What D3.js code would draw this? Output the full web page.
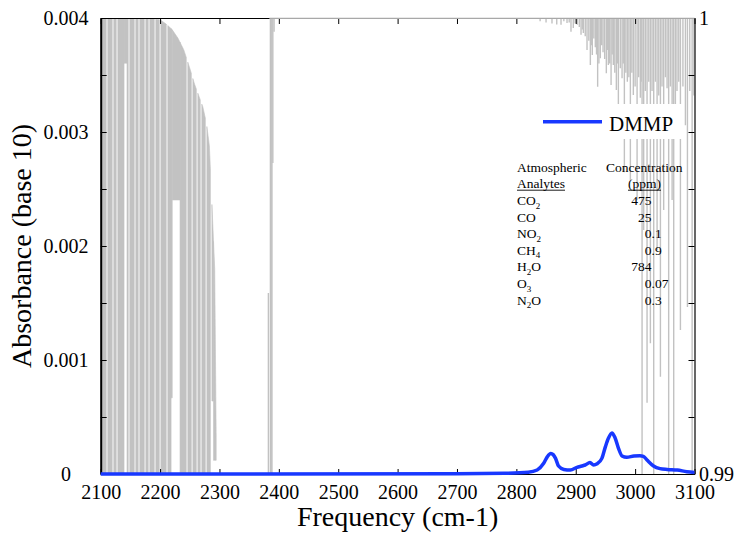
<!DOCTYPE html>
<html>
<head>
<meta charset="utf-8">
<script src="https://cdn.jsdelivr.net/npm/d3@7"></script>
<style>
  html, body { margin: 0; padding: 0; background: #fff; }
  svg { display: block; }
  text { font-family: "Liberation Serif", "Times New Roman", serif; fill: #000; }
</style>
</head>
<body>
<svg id="chart" width="736" height="537" font-family="Liberation Serif, serif"></svg>
<script>
// ---------------- DATA ----------------
// DMMP absorbance spectrum (left axis, absorbance base 10)
const dmmpFreq = [2100, 2700, 2780, 2820, 2835, 2846, 2852, 2858, 2862, 2866, 2871, 2880, 2891, 2902, 2910, 2916, 2924, 2930, 2936, 2944, 2950, 2955, 2961, 2966, 2972, 2978, 2986, 2998, 3008, 3014, 3020, 3031, 3042, 3054, 3071, 3087, 3100];
const dmmpAbs  = [0, 0.000002, 0.000006, 0.000015, 0.000035, 0.000094, 0.00015, 0.00018, 0.00017, 0.000137, 0.00007, 0.00004, 0.000035, 0.000058, 0.00007, 0.000079, 0.0001, 0.00008, 0.00009, 0.000137, 0.00024, 0.000313, 0.00036, 0.00032, 0.000225, 0.000158, 0.000146, 0.000158, 0.00016, 0.000155, 0.000123, 0.00007, 0.000047, 0.00004, 0.000035, 0.00002, 0.000014];

// Atmospheric transmittance (right axis): continuum envelope of the dense CO / N2O region
const envelopeFreq = [2100, 2160, 2190, 2200, 2210, 2220, 2230, 2240, 2250, 2258, 2265, 2272, 2278, 2283, 2287, 2292, 2294.5, 3100];
const envelopeT    = [1.0, 1.0, 0.99998, 0.99996, 0.99987, 0.99975, 0.99956, 0.9993, 0.9989, 0.99855, 0.9983, 0.99805, 0.9977, 0.9972, 0.996, 0.9945, 0.9908, 1.0];

// Dense absorption blocks: [start cm-1, end cm-1, minimum transmittance]
const denseBands = [
  [2100.0, 2109.3, 0.985], [2111.9, 2119.4, 0.985], [2122.0, 2126.2, 0.985],
  [2128.8, 2139.3, 0.985], [2139.3, 2144.3, 0.99901], [2144.3, 2146.4, 0.985],
  [2149.0, 2156.5, 0.985], [2159.1, 2163.2, 0.985], [2165.8, 2173.4, 0.985],
  [2176.0, 2180.1, 0.985], [2182.7, 2190.2, 0.985], [2192.8, 2198.7, 0.985],
  [2201.3, 2210.4, 0.985], [2213.0, 2218.5, 0.985], [2218.5, 2220.5, 0.99167],
  [2220.5, 2233.6, 0.99601], [2233.6, 2244.1, 0.985], [2246.7, 2252.6, 0.985],
  [2255.2, 2261.0, 0.985], [2263.6, 2267.7, 0.985], [2270.3, 2276.2, 0.985],
  [2278.8, 2284.7, 0.985], [2287.3, 2290.0, 0.9916], [2290.0, 2294.5, 0.9903]
];

// Isolated absorption lines: [cm-1, upper transmittance, minimum transmittance]
const sparseLines = [
  [2382.4, 0.99397, 0.985], [2385.8, 1.0, 0.985], [2387.0, 1.0, 0.985], [2388.4, 1.0, 0.985],
  [2389.9, 1.0, 0.99682], [2392.0, 1.0, 0.9997],
  [2840, 1.0, 0.99993], [2850, 1.0, 0.9999], [2860, 1.0, 0.99988], [2868, 1.0, 0.99986],
  [2875.2, 1.0, 0.99985], [2885.3, 1.0, 0.99989], [2892.0, 1.0, 0.9997], [2895.9, 1.0, 0.99978],
  [2902.7, 1.0, 0.99985], [2908.9, 1.0, 0.99963], [2912.8, 1.0, 0.99967], [2919.0, 1.0, 0.9993],
  [2924.6, 1.0, 0.99897], [2927.9, 1.0, 0.99919], [2933.0, 1.0, 0.99936], [2936.9, 1.0, 0.99849],
  [2941.4, 1.0, 0.99912], [2946.0, 1.0, 0.99925], [2951.5, 1.0, 0.99879], [2954.9, 1.0, 0.99897],
  [2959.5, 1.0, 0.99853], [2963.3, 1.0, 0.99897], [2968.4, 1.0, 0.99842], [2971.8, 1.0, 0.99776],
  [2978.0, 1.0, 0.99868], [2981.9, 1.0, 0.99662], [2986.9, 1.0, 0.9986], [2992.0, 1.0, 0.99645],
  [2997.0, 1.0, 0.99831], [3003.3, 1.0, 0.99601], [3008.8, 1.0, 0.99825], [3011.7, 1.0, 0.985],
  [3014.4, 1.0, 0.99535], [3020.1, 1.0, 0.99156], [3025.7, 1.0, 0.99287], [3031.3, 1.0, 0.985],
  [3037.0, 1.0, 0.99491], [3042.6, 1.0, 0.99213], [3048.1, 1.0, 0.99579], [3053.8, 1.0, 0.99846],
  [3056.5, 1.0, 0.985], [3062.3, 1.0, 0.99601], [3065.0, 1.0, 0.985], [3067.8, 1.0, 0.99787],
  [3076.3, 1.0, 0.99316], [3084.7, 1.0, 0.99765], [3088.1, 1.0, 0.99366], [3096.0, 1.0, 0.985],
  // weaker lines forming the upper fringe
  [2880, 1.0, 0.99993], [2889, 1.0, 0.9999], [2899, 1.0, 0.99988], [2906, 1.0, 0.9998],
  [2911, 1.0, 0.99975], [2916, 1.0, 0.9996], [2922, 1.0, 0.9995], [2926.3, 1.0, 0.9994],
  [2930.5, 1.0, 0.99955], [2935, 1.0, 0.9992], [2939, 1.0, 0.999], [2943.7, 1.0, 0.9994],
  [2948.7, 1.0, 0.9991], [2953.2, 1.0, 0.9993], [2957.2, 1.0, 0.999], [2961.4, 1.0, 0.9992],
  [2965.8, 1.0, 0.9988], [2970.1, 1.0, 0.999], [2975, 1.0, 0.9989], [2980, 1.0, 0.999],
  [2984.4, 1.0, 0.9988], [2989.5, 1.0, 0.9987], [2994.5, 1.0, 0.9988], [3000, 1.0, 0.9985],
  [3006, 1.0, 0.9987], [3010.2, 1.0, 0.9986], [3017.2, 1.0, 0.9984], [3023, 1.0, 0.9986],
  [3028.5, 1.0, 0.9984], [3034.2, 1.0, 0.9986], [3039.8, 1.0, 0.9983], [3045.3, 1.0, 0.9985],
  [3051, 1.0, 0.9987], [3059.4, 1.0, 0.9985], [3070.5, 1.0, 0.9984], [3073.5, 1.0, 0.9986],
  [3080.5, 1.0, 0.9985], [3092, 1.0, 0.9984], [3099, 1.0, 0.9983]
];

// Axis ticks
const xTicks = [2100, 2200, 2300, 2400, 2500, 2600, 2700, 2800, 2900, 3000, 3100];
const yLeftTicks = [0, 0.0005, 0.001, 0.0015, 0.002, 0.0025, 0.003, 0.0035, 0.004];
const yLeftLabels = [0, 0.001, 0.002, 0.003, 0.004];
const yRightTicks = [0.99, 0.99125, 0.9925, 0.99375, 0.995, 0.99625, 0.9975, 0.99875, 1];
const yRightLabels = [0.99, 1];

// Inset table
const analyteNames = [["CO", "2", ""], ["CO", "", ""], ["NO", "2", ""], ["CH", "4", ""], ["H", "2", "O"], ["O", "3", ""], ["N", "2", "O"]];
const analyteConc  = ["475", "25", "0.1", "0.9", "784", "0.07", "0.3"];

// ---------------- CHART ----------------
(function () {
const FONT = '"Liberation Serif", "Times New Roman", serif';
const svg = d3.select("#chart");
const pL = 100.7, pR = 694.5, pT = 18, pB = 474;

const x = d3.scaleLinear().domain([2100, 3100]).range([pL, pR]);
const yL = d3.scaleLinear().domain([0, 0.004]).range([pB, pT]);
const yR = d3.scaleLinear().domain([0.99, 1]).range([pB, pT]);
const env = d3.scaleLinear().domain(envelopeFreq).range(envelopeT);

svg.append("defs").append("clipPath").attr("id", "plotclip")
  .append("rect").attr("x", pL).attr("y", pT).attr("width", pR - pL).attr("height", pB - pT);

const gray = "#c2c2c2";
const specG = svg.append("g").attr("clip-path", "url(#plotclip)");

// dense blocks
const area = d3.area().x(d => x(d.f)).y0(d => yR(d.lo)).y1(d => yR(env(d.f)));
denseBands.forEach(([f0, f1, tmin]) => {
  const pts = [f0, ...envelopeFreq.filter(f => f > f0 && f < f1), f1].map(f => ({f, lo: tmin}));
  specG.append("path").attr("d", area(pts)).attr("fill", gray).attr("stroke", gray).attr("stroke-width", 0.6);
});

// isolated lines
specG.selectAll("line.sl").data(sparseLines).join("line")
  .attr("class", "sl")
  .attr("x1", d => x(d[0])).attr("x2", d => x(d[0]))
  .attr("y1", d => yR(d[1])).attr("y2", d => yR(d[2]))
  .attr("stroke", gray).attr("stroke-width", 1.4);

// legend box (white background)
svg.append("rect").attr("x", 535).attr("y", 104).attr("width", 147).attr("height", 35).attr("fill", "#fff");

// ---------------- AXES ----------------
const axBottom = svg.append("g").attr("transform", `translate(0,${pB})`)
  .call(d3.axisBottom(x).tickValues(xTicks).tickFormat(d3.format("d")).tickSize(-5).tickSizeOuter(0).tickPadding(11));
const axTop = svg.append("g").attr("transform", `translate(0,${pT})`)
  .call(d3.axisTop(x).tickValues(xTicks).tickFormat("").tickSize(-6).tickSizeOuter(0));
const axLeft = svg.append("g").attr("transform", `translate(${pL},0)`)
  .call(d3.axisLeft(yL).tickValues(yLeftTicks)
    .tickFormat(d => yLeftLabels.some(v => Math.abs(v - d) < 1e-9) ? (d === 0 ? "0" : d3.format(".3f")(d)) : "")
    .tickSize(-6).tickSizeOuter(0));
const axRight = svg.append("g").attr("transform", `translate(${pR},0)`)
  .call(d3.axisRight(yR).tickValues(yRightTicks)
    .tickFormat(d => yRightLabels.some(v => Math.abs(v - d) < 1e-9) ? (d === 1 ? "1" : "0.99") : "")
    .tickSize(-6).tickSizeOuter(0).tickPadding(4.5));

[axBottom, axTop, axLeft, axRight].forEach(g => {
  g.attr("font-family", FONT).attr("font-size", 20);
  g.selectAll("text").attr("font-family", FONT).style("font-family", FONT).style("font-size", "20px").attr("fill", "#000");
  g.selectAll(".tick line").attr("stroke", "#000").attr("stroke-width", 1);
  g.select(".domain").attr("stroke", "#000").attr("stroke-width", 1.2);
});
axLeft.select(".domain").attr("stroke-width", 2);
axLeft.selectAll("text").attr("text-anchor", "middle").attr("x", -34.7);

// gray continuum drawn over top edge beyond the CO2 line
svg.append("line").attr("x1", x(2384)).attr("x2", x(3100)).attr("y1", yR(0.99999)).attr("y2", yR(0.99999))
  .attr("stroke", "#a8a8a8").attr("stroke-width", 1.3);

// DMMP spectrum
const dmmp = dmmpFreq.map((f, i) => ({f, a: dmmpAbs[i]}));
svg.append("path")
  .attr("d", d3.line().x(d => x(d.f)).y(d => yL(d.a)).curve(d3.curveMonotoneX)(dmmp))
  .attr("fill", "none").attr("stroke", "#1838ff").attr("stroke-width", 3.5).attr("stroke-linejoin", "round");

// ---------------- TITLES ----------------
svg.append("text").attr("x", (pL + pR) / 2).attr("y", 526).attr("text-anchor", "middle")
  .style("font-family", FONT).style("font-size", "28px").text("Frequency (cm-1)");
svg.append("text").attr("transform", `translate(31,${(pT + pB) / 2}) rotate(-90)`).attr("text-anchor", "middle")
  .style("font-family", FONT).style("font-size", "28px").text("Absorbance (base 10)");

// ---------------- LEGEND ----------------
svg.append("line").attr("x1", 543).attr("x2", 602).attr("y1", 121.7).attr("y2", 121.7)
  .attr("stroke", "#1838ff").attr("stroke-width", 3.5);
svg.append("text").attr("x", 609).attr("y", 130.5).style("font-family", FONT).style("font-size", "21px").text("DMMP");

// ---------------- TABLE ----------------
const tbl = svg.append("g").style("font-family", FONT).style("font-size", "13.5px");
const colName = 517, decX = 651.5, rowH = 16.6, firstRow = 205;
tbl.append("text").attr("x", colName).attr("y", 171.7).text("Atmospheric");
tbl.append("text").attr("x", 606).attr("y", 171.7).text("Concentration");
const t1 = tbl.append("text").attr("x", colName).attr("y", 188.3).text("Analytes");
const t2 = tbl.append("text").attr("x", 628).attr("y", 188.3).text("(ppm)");
[t1, t2].forEach(t => {
  const b = t.node().getBBox();
  tbl.append("line").attr("x1", b.x).attr("x2", b.x + b.width).attr("y1", 190.2).attr("y2", 190.2)
    .attr("stroke", "#000").attr("stroke-width", 0.9);
});
analyteNames.forEach((n, i) => {
  const yy = firstRow + i * rowH;
  const t = tbl.append("text").attr("x", colName).attr("y", yy);
  t.append("tspan").text(n[0]);
  if (n[1]) t.append("tspan").attr("dy", 3.5).style("font-size", "9px").text(n[1]);
  if (n[2]) t.append("tspan").attr("dy", n[1] ? -3.5 : 0).text(n[2]);
  const parts = analyteConc[i].split(".");
  tbl.append("text").attr("x", decX).attr("y", yy).attr("text-anchor", "end").text(parts[0]);
  if (parts.length > 1) tbl.append("text").attr("x", decX).attr("y", yy).text("." + parts[1]);
});
})();
</script>
</body>
</html>
